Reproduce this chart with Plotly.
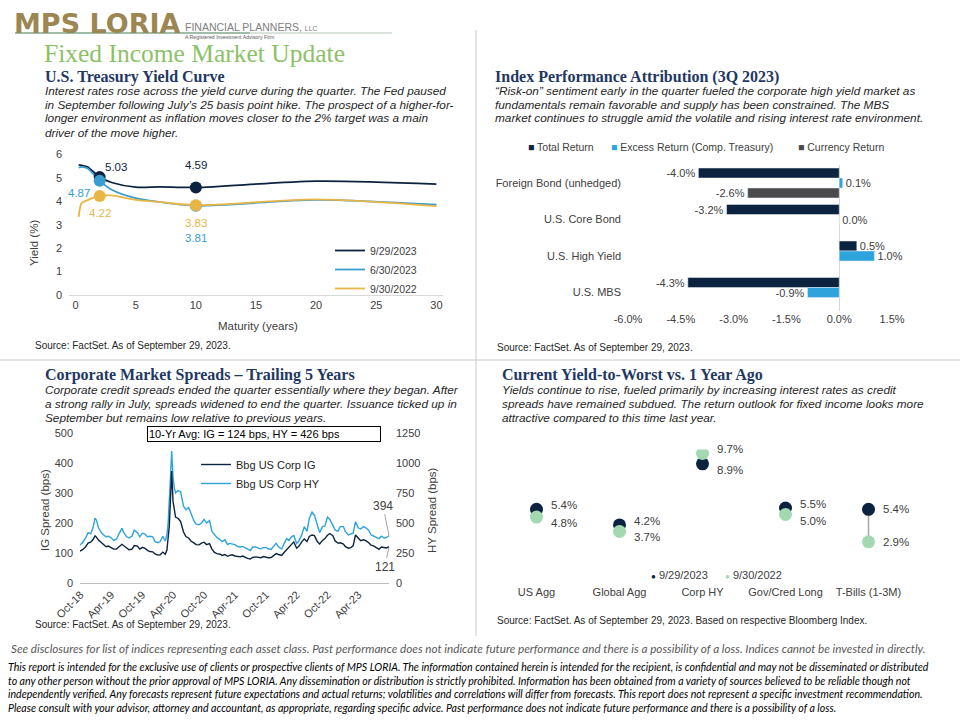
import plotly.graph_objects as go

# ----------------------------- DATA -----------------------------
# U.S. Treasury yield curve (maturity in years, yield in %)
maturities = [0.25, 0.5, 1, 2, 3, 5, 7, 10, 20, 30]
yc_sep2023 = [5.55, 5.53, 5.46, 5.03, 4.80, 4.60, 4.61, 4.59, 4.86, 4.73]
yc_jun2023 = [5.43, 5.47, 5.40, 4.87, 4.49, 4.13, 3.97, 3.81, 4.06, 3.85]
yc_sep2022 = [3.33, 3.92, 4.05, 4.22, 4.25, 4.06, 3.97, 3.83, 4.08, 3.79]
yc_names = ["9/29/2023", "6/30/2023", "9/30/2022"]
key_maturities = [2, 10]
yc_ticks = [0, 5, 10, 15, 20, 25, 30]

# Index performance attribution (3Q 2023), %
attr_categories = ["Foreign Bond (unhedged)", "U.S. Core Bond", "U.S. High Yield", "U.S. MBS"]
attr_series = ["Total Return", "Excess Return (Comp. Treasury)", "Currency Return"]
total_return = [-4.0, -3.2, 0.5, -4.3]
excess_return = [0.1, 0.0, 1.0, -0.9]
currency_return = [-2.6, None, None, None]
attr_ticks = [-6.0, -4.5, -3.0, -1.5, 0.0, 1.5]

# Corporate spreads, trailing 5 years (bps)
spread_dates = [
    "2018-09-28", "2018-10-15", "2018-10-31", "2018-11-15", "2018-11-30", "2018-12-14",
    "2018-12-26", "2019-01-03", "2019-01-15", "2019-02-01", "2019-02-15", "2019-03-01",
    "2019-03-15", "2019-04-01", "2019-04-15", "2019-05-01", "2019-05-15", "2019-06-03",
    "2019-06-14", "2019-07-01", "2019-07-15", "2019-08-01", "2019-08-15", "2019-09-03",
    "2019-09-16", "2019-10-02", "2019-10-15", "2019-11-01", "2019-11-15", "2019-12-02",
    "2019-12-16", "2020-01-02", "2020-01-15", "2020-01-31", "2020-02-14", "2020-02-24",
    "2020-03-02", "2020-03-09", "2020-03-16", "2020-03-23", "2020-03-31", "2020-04-08",
    "2020-04-15", "2020-05-01", "2020-05-15", "2020-06-01", "2020-06-15", "2020-07-01",
    "2020-07-15", "2020-08-03", "2020-08-14", "2020-09-01", "2020-09-15", "2020-10-01",
    "2020-10-15", "2020-11-02", "2020-11-16", "2020-12-01", "2020-12-15", "2021-01-04",
    "2021-01-15", "2021-02-01", "2021-02-16", "2021-03-01", "2021-03-15", "2021-04-01",
    "2021-04-15", "2021-05-03", "2021-05-17", "2021-06-01", "2021-06-15", "2021-07-01",
    "2021-07-15", "2021-08-02", "2021-08-16", "2021-09-01", "2021-09-15", "2021-10-01",
    "2021-10-15", "2021-11-01", "2021-11-15", "2021-12-01", "2021-12-15", "2022-01-03",
    "2022-01-14", "2022-02-01", "2022-02-15", "2022-03-01", "2022-03-15", "2022-04-01",
    "2022-04-14", "2022-05-02", "2022-05-16", "2022-06-01", "2022-06-15", "2022-07-01",
    "2022-07-15", "2022-08-01", "2022-08-15", "2022-09-01", "2022-09-15", "2022-09-30",
    "2022-10-14", "2022-11-01", "2022-11-15", "2022-12-01", "2022-12-15", "2023-01-03",
    "2023-01-13", "2023-02-01", "2023-02-15", "2023-03-01", "2023-03-15", "2023-03-31",
    "2023-04-14", "2023-05-01", "2023-05-15", "2023-06-01", "2023-06-15", "2023-06-30",
    "2023-07-14", "2023-08-01", "2023-08-15", "2023-09-01", "2023-09-15", "2023-09-29",
]
ig_spread = [
    106, 112, 121, 133, 136, 145, 157, 153, 143, 134, 127, 121,
    123, 118, 113, 113, 119, 129, 124, 115, 111, 113, 125, 123,
    113, 119, 116, 109, 105, 104, 97, 93, 94, 103, 96, 110,
    145, 190, 280, 373, 272, 250, 220, 215, 205, 170, 155, 150,
    140, 133, 128, 127, 133, 136, 128, 131, 113, 102, 98, 96,
    92, 95, 89, 92, 94, 90, 88, 87, 90, 85, 82, 80,
    85, 87, 86, 84, 88, 86, 84, 85, 90, 98, 95, 92,
    100, 112, 122, 130, 137, 116, 122, 138, 147, 138, 155, 160,
    158, 138, 130, 142, 148, 159, 165, 158, 140, 133, 134, 130,
    122, 116, 118, 124, 160, 150, 141, 144, 141, 134, 126, 124,
    119, 112, 120, 119, 117, 121,
]
hy_spread = [
    316, 340, 375, 420, 410, 460, 540, 525, 460, 420, 400, 385,
    390, 375, 355, 365, 405, 455, 420, 385, 375, 390, 440, 420,
    385, 415, 410, 385, 390, 385, 345, 336, 345, 390, 350, 400,
    500, 650, 880, 1100, 880, 790, 750, 770, 760, 640, 610, 630,
    575, 515, 490, 485, 500, 530, 500, 520, 430, 400, 380, 360,
    345, 360, 320, 330, 325, 320, 305, 300, 305, 295, 285, 270,
    300, 300, 290, 285, 295, 295, 285, 280, 305, 330, 300, 283,
    320, 370, 355, 385, 395, 330, 350, 405, 470, 430, 540, 590,
    565, 480, 420, 470, 475, 550, 530, 480, 440, 430, 470, 470,
    430, 400, 410, 415, 510, 460, 450, 470, 460, 440, 400, 390,
    380, 370, 390, 375, 380, 394,
]
spread_ticks = ["2018-10-01", "2019-04-01", "2019-10-01", "2020-04-01", "2020-10-01",
                "2021-04-01", "2021-10-01", "2022-04-01", "2022-10-01", "2023-04-01"]
ig_avg_10yr = 124
hy_avg_10yr = 426

# Current yield-to-worst vs 1 year ago, %
ytw_categories = ["US Agg", "Global Agg", "Corp HY", "Gov/Cred Long", "T-Bills (1-3M)"]
ytw_2023 = [5.4, 4.2, 8.9, 5.5, 5.4]
ytw_2022 = [4.8, 3.7, 9.7, 5.0, 2.9]
ytw_names = ["9/29/2023", "9/30/2022"]

# ----------------------------- STYLE -----------------------------
W, H = 960, 720
def px(x):
    return x / W
def py(y):
    return 1 - y / H

SANS = "Liberation Sans, Arial, sans-serif"
SERIF = "Liberation Serif, Times New Roman, serif"
NARROW = "Lato, Liberation Sans Narrow, sans-serif"
NAVY = "#0c2340"
TEAL = "#3a9dd0"
GOLD = "#e8b547"
SKY = "#2ea3dc"
GRAYBAR = "#4a4a4c"
MINT = "#a2d9b1"
TXT = "#404040"
HEAD = "#1f3864"

fig = go.Figure()
annotations = []

def text(x, y, s, size, color, family=SANS, xanchor="left", angle=0):
    annotations.append(dict(x=px(x), y=py(y), xref="paper", yref="paper", text=s,
                            showarrow=False, xanchor=xanchor, yanchor="middle", textangle=angle,
                            font=dict(family=family, size=size, color=color)))

# ---------------- Treasury yield curve ----------------
yc_colors = [NAVY, TEAL, GOLD]
yc_data = [yc_sep2023, yc_jun2023, yc_sep2022]
for name, vals, col in zip(yc_names, yc_data, yc_colors):
    fig.add_trace(go.Scatter(
        x=maturities, y=vals, mode="lines", name=name,
        line=dict(color=col, width=1.8, shape="spline", smoothing=0.8),
        xaxis="x", yaxis="y", legend="legend2", hoverinfo="skip"))
key_idx = [maturities.index(m) for m in key_maturities]
for vals, col in zip(yc_data, yc_colors):
    fig.add_trace(go.Scatter(
        x=[maturities[i] for i in key_idx], y=[vals[i] for i in key_idx],
        mode="markers", marker=dict(color=col, size=12),
        xaxis="x", yaxis="y", showlegend=False, hoverinfo="skip"))

# label offsets (style): (series index, key index, xanchor, xshift, yshift)
yc_label_style = [
    (0, 0, "left", 3, 10),
    (0, 1, "center", 0, 22),
    (1, 0, "right", -8, -12),
    (2, 0, "center", 0, -17),
    (2, 1, "center", 0, -18),
    (1, 1, "center", 0, -32),
]
for s, k, xa, xs, ys in yc_label_style:
    i = key_idx[k]
    annotations.append(dict(
        x=maturities[i], y=yc_data[s][i], xref="x", yref="y",
        text=f"{yc_data[s][i]:.2f}", showarrow=False, xanchor=xa, yanchor="middle",
        xshift=xs, yshift=ys, font=dict(family=SANS, size=11.5, color=yc_colors[s])))
text(258, 326, "Maturity (years)", 11.5, TXT, xanchor="center")
text(34, 243, "Yield (%)", 11.5, TXT, xanchor="center", angle=-90)

# ---------------- Index performance attribution ----------------
attr_colors = [NAVY, SKY, GRAYBAR]
for name, vals, col in zip(attr_series, [total_return, excess_return, currency_return], attr_colors):
    fig.add_trace(go.Bar(
        y=attr_categories, x=vals, orientation="h", name=name, marker_color=col,
        text=[(f"{v:.1f}%" if v is not None else "") for v in vals],
        textposition="outside", cliponaxis=False, constraintext="none",
        textfont=dict(family=SANS, size=11, color=TXT), showlegend=False,
        xaxis="x2", yaxis="y2", hoverinfo="skip"))
# compact legend row for the bars
for (lx, name, col) in zip([526, 609, 796], attr_series, attr_colors):
    text(lx, 147, f"<span style='color:{col}'>■</span> {name}", 10.5, TXT)

# ---------------- Corporate spreads ----------------
fig.add_trace(go.Scatter(
    x=spread_dates, y=hy_spread, mode="lines", name="Bbg US Corp HY",
    line=dict(color=SKY, width=1.4), xaxis="x3", yaxis="y3",
    legend="legend3", legendrank=2, hoverinfo="skip"))
fig.add_trace(go.Scatter(
    x=spread_dates, y=ig_spread, mode="lines", name="Bbg US Corp IG",
    line=dict(color=NAVY, width=1.4), xaxis="x3", yaxis="y4",
    legend="legend3", legendrank=1, hoverinfo="skip"))

annotations.append(dict(
    x=spread_dates[-1], y=hy_spread[-1], xref="x3", yref="y3",
    text=str(hy_spread[-1]), showarrow=True, arrowhead=0, arrowwidth=0.8,
    arrowcolor="#8c8c8c", ax=-6, ay=-30, font=dict(family=SANS, size=12, color=TXT)))
annotations.append(dict(
    x=spread_dates[-1], y=ig_spread[-1], xref="x3", yref="y4",
    text=str(ig_spread[-1]), showarrow=True, arrowhead=0, arrowwidth=0.8,
    arrowcolor="#8c8c8c", ax=-4, ay=20, font=dict(family=SANS, size=12, color=TXT)))
annotations.append(dict(
    x=px(147), y=py(433.5), xref="paper", yref="paper", xanchor="left", yanchor="middle",
    text=f"10-Yr Avg: IG = {ig_avg_10yr} bps, HY = {hy_avg_10yr} bps", showarrow=False,
    width=230, align="left", bordercolor="#000000", borderwidth=1, borderpad=1,
    bgcolor="white", font=dict(family=SANS, size=11, color="#000000")))
text(45, 510, "IG Spread (bps)", 11.5, TXT, xanchor="center", angle=-90)
text(432, 510, "HY Spread (bps)", 11.5, TXT, xanchor="center", angle=-90)

# ---------------- Yield to worst ----------------
conn_x, conn_y = [], []
for c, a, b in zip(ytw_categories, ytw_2023, ytw_2022):
    conn_x += [c, c, None]
    conn_y += [a, b, None]
fig.add_trace(go.Scatter(x=conn_x, y=conn_y, mode="lines", line=dict(color="#a6a6a6", width=1.5),
                         xaxis="x4", yaxis="y5", showlegend=False, hoverinfo="skip"))
ytw_colors = [NAVY, MINT]
for name, vals, col in zip(ytw_names, [ytw_2023, ytw_2022], ytw_colors):
    fig.add_trace(go.Scatter(x=ytw_categories, y=vals, mode="markers", name=name,
                             marker=dict(color=col, size=13), showlegend=False,
                             xaxis="x4", yaxis="y5", hoverinfo="skip"))
for c, a, b in zip(ytw_categories, ytw_2023, ytw_2022):
    close = abs(a - b) < 1.5
    hi = max(a, b)
    for v in (a, b):
        ys = 0
        if close:
            ys = 4 if v == hi else -6
        annotations.append(dict(
            x=c, y=v, xref="x4", yref="y5", text=f"{v:.1f}%", showarrow=False,
            xanchor="left", yanchor="middle", xshift=12, yshift=ys,
            font=dict(family=SANS, size=11.5, color=TXT)))
# compact legend row for the dots
for lx, name, col in zip([649, 723], ytw_names, ytw_colors):
    text(lx, 575, f"<span style='color:{col};font-size:8px'>●</span> {name}", 11, TXT)

# ---------------- Page text ----------------
text(12, 23, "<b>MPS LORIA</b>", 27, "#9c8652", "DejaVu Sans, sans-serif")
text(183, 27.5, "FINANCIAL PLANNERS, <span style='font-size:7px'>LLC</span>", 10.5, "#808080")
text(183, 36.8, "A Registered Investment Advisory Firm", 5.2, "#595959")
text(42, 54, "Fixed Income Market Update", 25.5, "#8cc266", SERIF)

DESC = 11.8
HS = 16
text(43, 77, "<b>U.S. Treasury Yield Curve</b>", HS, HEAD, SERIF)
for y, s in zip([90.5, 104.5, 118.5, 132.5], [
        "Interest rates rose across the yield curve during the quarter. The Fed paused",
        "in September following July’s 25 basis point hike. The prospect of a higher-for-",
        "longer environment as inflation moves closer to the 2% target was a main",
        "driver of the move higher."]):
    text(43, y, f"<i>{s}</i>", DESC, "#262626")

text(493, 77, "<b>Index Performance Attribution (3Q 2023)</b>", HS, HEAD, SERIF)
for y, s in zip([90.5, 104.5, 118.5], [
        "“Risk-on” sentiment early in the quarter fueled the corporate high yield market as",
        "fundamentals remain favorable and supply has been constrained. The MBS",
        "market continues to struggle amid the volatile and rising interest rate environment."]):
    text(493, y, f"<i>{s}</i>", DESC, "#262626")

text(43, 374.5, "<b>Corporate Market Spreads – Trailing 5 Years</b>", HS, HEAD, SERIF)
for y, s in zip([389.5, 403.5, 417.5], [
        "Corporate credit spreads ended the quarter essentially where they began. After",
        "a strong rally in July, spreads widened to end the quarter. Issuance ticked up in",
        "September but remains low relative to previous years."]):
    text(43, y, f"<i>{s}</i>", DESC, "#262626")

text(500, 374.5, "<b>Current Yield-to-Worst vs. 1 Year Ago</b>", HS, HEAD, SERIF)
for y, s in zip([389.5, 403.5, 417.5], [
        "Yields continue to rise, fueled primarily by increasing interest rates as credit",
        "spreads have remained subdued. The return outlook for fixed income looks more",
        "attractive compared to this time last year."]):
    text(500, y, f"<i>{s}</i>", DESC, "#262626")

src = "Source: FactSet. As of September 29, 2023."
text(33, 345, src, 10, "#262626")
text(495, 347, src, 10, "#262626")
text(33, 624, src, 10, "#262626")
text(495, 620, src + " Based on respective Bloomberg Index.", 10, "#262626")

text(9, 648, "<i>See disclosures for list of indices representing each asset class. Past performance does not indicate future performance and there is a possibility of a loss. Indices cannot be invested in directly.</i>", 11.7, "#595959", NARROW)
for y, s in zip([667, 680.5, 694, 707.5], [
        "This report is intended for the exclusive use of clients or prospective clients of MPS LORIA. The information contained herein is intended for the recipient, is confidential and may not be disseminated or distributed",
        "to any other person without the prior approval of MPS LORIA. Any dissemination or distribution is strictly prohibited. Information has been obtained from a variety of sources believed to be reliable though not",
        "independently verified. Any forecasts represent future expectations and actual returns; volatilities and correlations will differ from forecasts. This report does not represent a specific investment recommendation.",
        "Please consult with your advisor, attorney and accountant, as appropriate, regarding specific advice. Past performance does not indicate future performance and there is a possibility of a loss."]):
    text(6, y, f"<i>{s}</i>", 10.6, "#000000", NARROW)

shapes = [
    dict(type="line", xref="paper", yref="paper", x0=px(476), x1=px(476), y0=py(30), y1=py(636),
         line=dict(color="#c8c8c8", width=1)),
    dict(type="line", xref="paper", yref="paper", x0=px(0), x1=px(960), y0=py(360), y1=py(360),
         line=dict(color="#c8c8c8", width=1)),
    dict(type="line", xref="paper", yref="paper", x0=px(15), x1=px(250), y0=py(33), y1=py(33),
         line=dict(color="#3f7f55", width=1.2)),
    dict(type="line", xref="paper", yref="paper", x0=px(250), x1=px(392), y0=py(33), y1=py(33),
         line=dict(color="#b8c8bc", width=1.2)),
]

tickfont = dict(family=SANS, size=11, color=TXT)

fig.update_layout(
    width=W, height=H, margin=dict(l=0, r=0, t=0, b=0, autoexpand=False),
    paper_bgcolor="white", plot_bgcolor="white",
    barmode="group", bargap=0.18, bargroupgap=0,
    annotations=annotations, shapes=shapes,
    # treasury
    xaxis=dict(domain=[px(69), px(443)], range=[-0.55, 30.55], anchor="y", automargin=False,
               tickvals=yc_ticks, showgrid=False, zeroline=False,
               showline=True, linecolor="#d9d9d9", tickfont=tickfont),
    yaxis=dict(domain=[py(295), py(149.7)], range=[0, 6.2], anchor="x", dtick=1, automargin=False,
               showgrid=False, zeroline=False, tickfont=tickfont, ticklabelstandoff=6),
    # attribution
    xaxis2=dict(domain=[px(628), px(892)], range=[-6, 1.5], anchor="y2", automargin=False,
                tickvals=attr_ticks, ticktext=[f"{v:.1f}%" for v in attr_ticks],
                showgrid=False, zeroline=True, zerolinecolor="#d9d9d9", zerolinewidth=1,
                tickfont=tickfont),
    yaxis2=dict(domain=[py(310.75), py(164.75)], anchor="x2", autorange="reversed", automargin=False,
                type="category", showgrid=False, tickfont=tickfont, ticklabelstandoff=6),
    # spreads
    xaxis3=dict(domain=[px(80), px(389)], range=[spread_dates[0], spread_dates[-1]],
                anchor="y3", type="date", tickvals=spread_ticks, tickformat="%b-%y",
                tickangle=-45, showgrid=False, zeroline=False, showline=True, automargin=False,
                linecolor="#bfbfbf", tickfont=tickfont),
    yaxis3=dict(domain=[py(583), py(433)], range=[0, 1250], dtick=250, anchor="x3",
                side="right", showgrid=False, zeroline=False, tickfont=tickfont,
                ticklabelstandoff=6, automargin=False),
    yaxis4=dict(range=[0, 500], dtick=100, overlaying="y3", side="left", anchor="x3",
                showgrid=False, zeroline=False, tickfont=tickfont, ticklabelstandoff=6,
                automargin=False),
    # ytw
    xaxis4=dict(domain=[px(495), px(910)], range=[-0.5, 4.5], anchor="y5", automargin=False,
                type="category", showgrid=False, zeroline=False, showline=False,
                tickfont=tickfont, ticklabelstandoff=4),
    yaxis5=dict(domain=[py(579.5), py(449.5)], range=[0, 10], anchor="x4", visible=False,
                automargin=False),
    legend2=dict(x=px(330), y=py(236), xanchor="left", yanchor="top",
                 font=dict(family=SANS, size=10.5, color=TXT), bgcolor="rgba(0,0,0,0)"),
    legend3=dict(x=px(196), y=py(450), xanchor="left", yanchor="top",
                 font=dict(family=SANS, size=11, color="#262626"), bgcolor="rgba(0,0,0,0)"),
)

fig.write_html("out.html", config={"displayModeBar": False},
               post_script="document.body.style.margin='0px';")
